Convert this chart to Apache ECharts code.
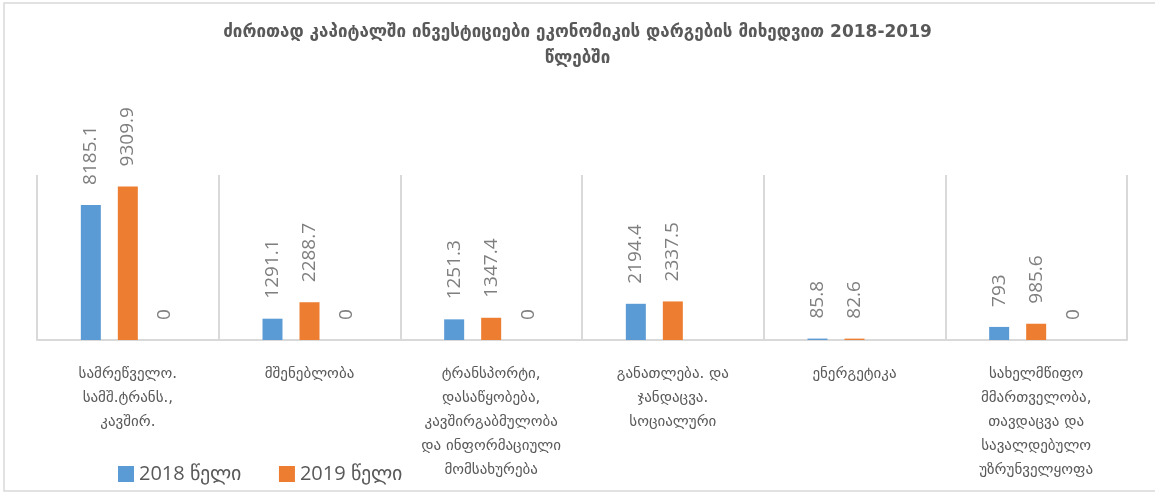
<!DOCTYPE html>
<html>
<head>
<meta charset="utf-8">
<script src="https://cdn.jsdelivr.net/npm/echarts@6/dist/echarts.min.js"></script>
<style>
html,body{margin:0;padding:0;background:#fff;}
#c{width:1155px;height:493px;}
</style>
</head>
<body>
<div id="c"></div>
<script>
const titleText = "ძირითად კაპიტალში ინვესტიციები ეკონომიკის დარგების მიხედვით 2018-2019\nწლებში";
const categories = [
  "სამრეწველო.\nსამშ.ტრანს.,\nკავშირ.",
  "მშენებლობა",
  "ტრანსპორტი,\nდასაწყობება,\nკავშირგაბმულობა\nდა ინფორმაციული\nმომსახურება",
  "განათლება. და\nჯანდაცვა.\nსოციალური",
  "ენერგეტიკა",
  "სახელმწიფო\nმმართველობა,\nთავდაცვა და\nსავალდებულო\nუზრუნველყოფა"
];
const seriesNames = ["2018 წელი", "2019 წელი"];
const values2018 = [8185.1, 1291.1, 1251.3, 2194.4, 85.8, 793];
const values2019 = [9309.9, 2288.7, 1347.4, 2337.5, 82.6, 985.6];
const valuesThird = [0, 0, 0, null, null, 0];

const chart = echarts.init(document.getElementById('c'), null, {renderer: 'canvas'});
const labelStyle = {
  show: true,
  position: 'top',
  rotate: 90,
  align: 'left',
  verticalAlign: 'middle',
  distance: 20,
  color: '#7f7f7f',
  fontSize: 19,
  fontFamily: 'Open Sans'
};
chart.setOption({
  backgroundColor: '#fff',
  animation: false,
  title: {
    text: titleText,
    left: 'center',
    top: 15,
    textStyle: {
      fontSize: 17,
      fontWeight: 'bold',
      color: '#595959',
      lineHeight: 26,
      fontFamily: 'DejaVu Sans'
    }
  },
  legend: {
    left: 113,
    top: 459,
    icon: 'rect',
    itemWidth: 16,
    itemHeight: 16,
    itemGap: 38,
    data: seriesNames,
    textStyle: {fontSize: 20, color: '#595959', fontFamily: 'Open Sans'}
  },
  grid: {left: 37, right: 28, top: 175, bottom: 153},
  xAxis: {
    type: 'category',
    data: categories,
    axisLine: {show: true, lineStyle: {color: '#d9d9d9', width: 2}},
    axisTick: {show: false},
    splitLine: {show: true, lineStyle: {color: '#d9d9d9', width: 2}},
    axisLabel: {
      interval: 0,
      margin: 22,
      color: '#595959',
      fontSize: 15,
      lineHeight: 24,
      fontFamily: 'DejaVu Sans'
    }
  },
  yAxis: {
    type: 'value',
    min: 0,
    max: 10000,
    show: false,
    splitLine: {show: false}
  },
  series: [
    {name: seriesNames[0], type: 'bar', data: values2018, barWidth: 20, barGap: '85%',
     itemStyle: {color: '#5b9bd5'}, label: labelStyle},
    {name: seriesNames[1], type: 'bar', data: values2019, barWidth: 20, barGap: '85%',
     itemStyle: {color: '#ed7d31'}, label: labelStyle},
    {name: 'other', type: 'bar', data: valuesThird, barWidth: 20, barGap: '85%',
     itemStyle: {color: '#a5a5a5'}, label: labelStyle}
  ],
  graphic: [{
    type: 'rect',
    shape: {x: 4, y: 3, width: 1170, height: 488},
    style: {fill: 'none', stroke: '#d9d9d9', lineWidth: 1.5},
    silent: true,
    z: 100
  }]
});
</script>
</body>
</html>
